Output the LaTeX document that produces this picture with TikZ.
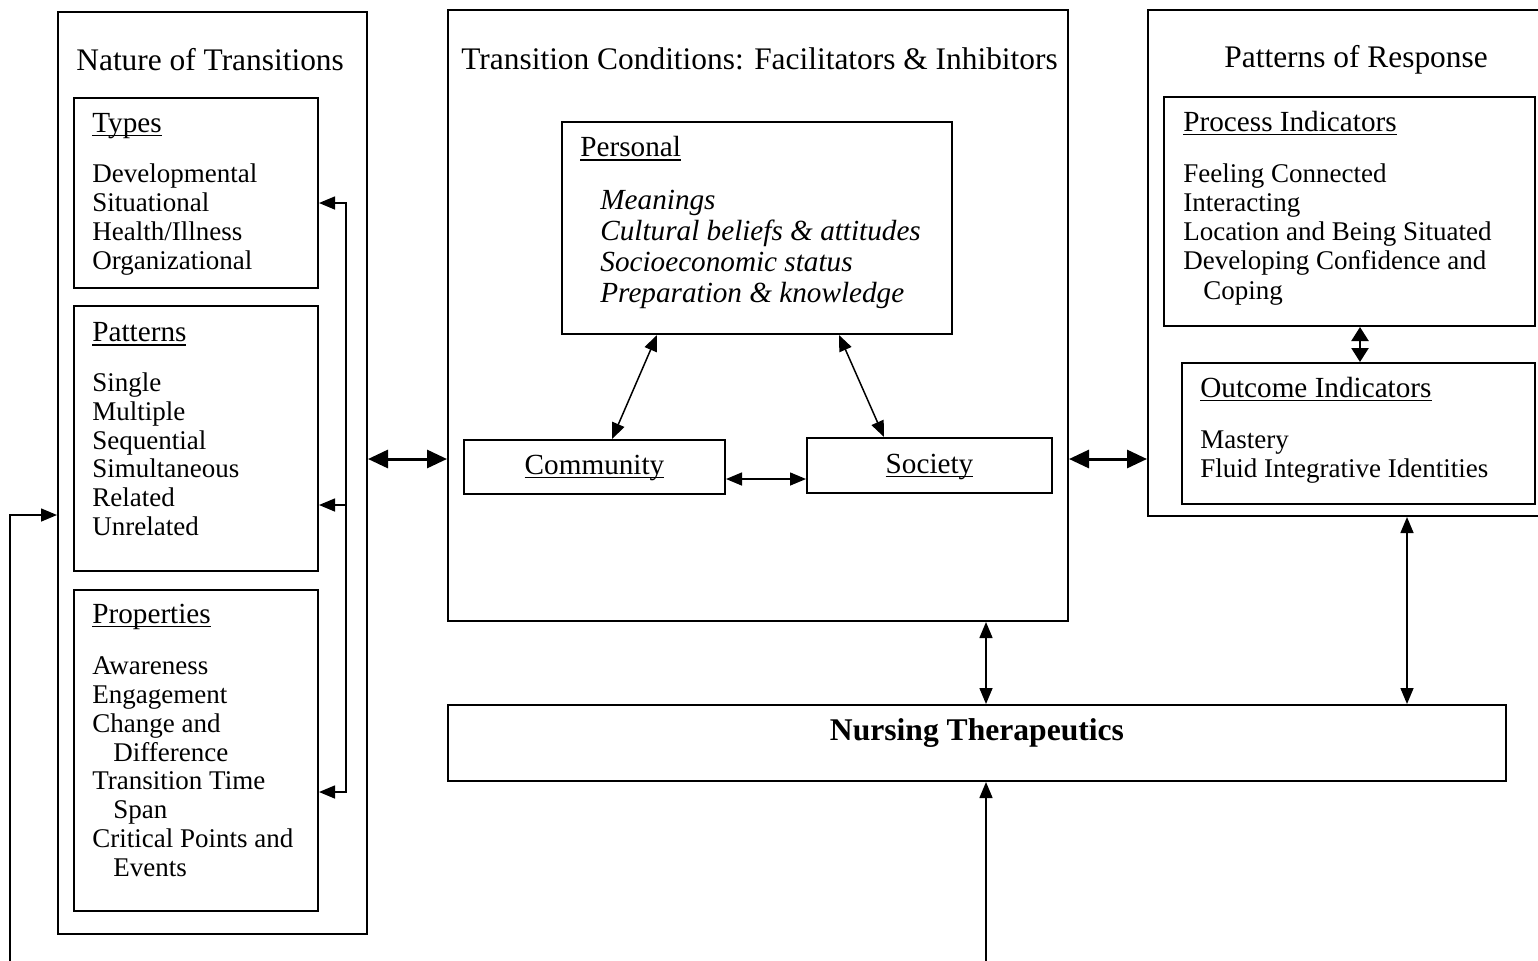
\documentclass[tikz,border=0pt]{standalone}
\usepackage{fontspec}
\setmainfont{Liberation Serif}
\usetikzlibrary{arrows.meta,fit,calc}
\newcommand\myul[1]{\setbox0\hbox{#1}\rlap{\rule[-2pt]{\wd0}{0.7pt}}\box0}
\begin{document}
\begin{tikzpicture}[x=0.5pt,y=-0.5pt,
  bx/.style={draw, line width=1pt, inner sep=0pt},
  ttl/.style={font=\fontsize{15.7}{18}\selectfont, anchor=base west, inner sep=0pt},
  hdr/.style={font=\fontsize{14.6}{17}\selectfont, anchor=base west, inner sep=0pt},
  itm/.style={font=\fontsize{13.5}{16}\selectfont, anchor=base west, inner sep=0pt},
  ital/.style={font=\fontsize{14.6}{17}\selectfont\itshape, anchor=base west, inner sep=0pt},
  plain/.style={line width=0.75pt},
  bigarr/.style={line width=1.5pt, {Triangle[length=10pt,width=9pt]}-{Triangle[length=10pt,width=9pt]}},
  medarr/.style={line width=0.75pt, {Triangle[length=8pt,width=6.5pt]}-{Triangle[length=8pt,width=6.5pt]}},
  onearr/.style={line width=0.75pt, -{Triangle[length=8pt,width=6.5pt]}},
  poarr/.style={line width=1.2pt, {Triangle[length=7pt,width=8.5pt]}-{Triangle[length=7pt,width=8.5pt]}}
]
\useasboundingbox (0,0) rectangle (1538,960);
\clip (0,0) rectangle (1538,960);

% ---- boxes ----
\node[bx, fit={(58,12) (367,934)}] (nature) {};
\node[bx, fit={(74,98) (318,288)}] (types) {};
\node[bx, fit={(74,306) (318,571)}] (patterns) {};
\node[bx, fit={(74,590) (318,911)}] (props) {};
\node[bx, fit={(448,10) (1068,621)}] (cond) {};
\node[bx, fit={(562,122) (952,334)}] (personal) {};
\node[bx, fit={(464,440) (725,494)}] (community) {};
\node[bx, fit={(807,438) (1052,493)}] (society) {};
\node[bx, fit={(1148,10) (1560,516)}] (resp) {};
\node[bx, fit={(1164,97) (1535,326)}] (process) {};
\node[bx, fit={(1182,363) (1535,504)}] (outcome) {};
\node[bx, fit={(448,705) (1506,781)}] (nt) {};

% ---- Nature of Transitions ----
\node[ttl] (natT) at (76,70) {Nature of Transitions};
\node[hdr] (typH) at (92,132) {\myul{Types}};
\node[itm] (ty1) at (92,182.7) {Developmental};
\node[itm] (ty2) at (92,211.5) {Situational};
\node[itm] (ty3) at (92,240.2) {Health/Illness};
\node[itm] (ty4) at (92,269) {Organizational};
\node[hdr] (patH) at (92,341.7) {\myul{Patterns}};
\node[itm] (pa1) at (92,391.7) {Single};
\node[itm] (pa2) at (92,420.4) {Multiple};
\node[itm] (pa3) at (92,449.1) {Sequential};
\node[itm] (pa4) at (92,477.8) {Simultaneous};
\node[itm] (pa5) at (92,506.5) {Related};
\node[itm] (pa6) at (92,535.2) {Unrelated};
\node[hdr] (proH) at (92,623.3) {\myul{Properties}};
\node[itm] (pr1) at (92,674.3) {Awareness};
\node[itm] (pr2) at (92,703.2) {Engagement};
\node[itm] (pr3) at (92,732.1) {Change and};
\node[itm] (pr4) at (113,761) {Difference};
\node[itm] (pr5) at (92,789.9) {Transition Time};
\node[itm] (pr6) at (113,818.8) {Span};
\node[itm] (pr7) at (92,847.7) {Critical Points and};
\node[itm] (pr8) at (113,876.6) {Events};

% ---- Transition Conditions ----
\node[ttl] (condT) at (461,69) {Transition Conditions: Facilitators \& Inhibitors};
\node[hdr] (perH) at (580,156.7) {\myul{Personal}};
\node[ital] (pe1) at (600,209) {Meanings};
\node[ital] (pe2) at (600,240.2) {Cultural beliefs \& attitudes};
\node[ital] (pe3) at (600,271.5) {Socioeconomic status};
\node[ital] (pe4) at (600,302.7) {Preparation \& knowledge};
\node[hdr, anchor=base] (comT) at (594.5,474) {\myul{Community}};
\node[hdr, anchor=base] (socT) at (929.5,473) {\myul{Society}};

% ---- Patterns of Response ----
\node[ttl] (respT) at (1224,67) {Patterns of Response};
\node[hdr] (procH) at (1183,131) {\myul{Process Indicators}};
\node[itm] (pc1) at (1183,182) {Feeling Connected};
\node[itm] (pc2) at (1183,211.3) {Interacting};
\node[itm] (pc3) at (1183,240.6) {Location and Being Situated};
\node[itm] (pc4) at (1183,269.9) {Developing Confidence and};
\node[itm] (pc5) at (1203,299.2) {Coping};
\node[hdr] (outH) at (1200,397) {\myul{Outcome Indicators}};
\node[itm] (oc1) at (1200,448) {Mastery};
\node[itm] (oc2) at (1200,477.3) {Fluid Integrative Identities};

% ---- Nursing Therapeutics ----
\node[anchor=base, inner sep=0pt, font=\fontsize{15.8}{18}\selectfont\bfseries] (ntT) at (977,740) {Nursing Therapeutics};

% ---- connectors ----
\coordinate (y459) at (0,459);
\draw[bigarr] (nature.east |- y459) -- (cond.west |- y459);
\draw[bigarr] (cond.east |- y459) -- (resp.west |- y459);
\draw[medarr] ($(personal.south west)+(96,0)$) -- ($(community.north west)+(149,0)$);
\draw[medarr] ($(personal.south west)+(278,0)$) -- ($(society.north west)+(78,0)$);
\coordinate (y479) at (0,479);
\draw[medarr] (community.east |- y479) -- (society.west |- y479);
\coordinate (px) at (1360,0);
\draw[poarr] (px |- process.south) -- (px |- outcome.north);
\coordinate (rx) at (1407,0);
\draw[medarr] (rx |- resp.south) -- (rx |- nt.north);
\coordinate (cx) at (986,965);
\draw[medarr] (cx |- cond.south) -- (cx |- nt.north);
\draw[onearr] (cx) -- (cx |- nt.south);
\coordinate (lb) at (10,965);
\coordinate (lc) at (10,515);
\draw[onearr] (lb) -- (lc) -- (nature.west |- lc);
\coordinate (fb1) at (346,203);
\coordinate (fb2) at (346,505);
\coordinate (fb3) at (346,792);
\draw[plain] (fb1) -- (fb3);
\draw[onearr] (fb3) -- (fb1) -- (types.east |- fb1);
\draw[onearr] (fb2) -- (patterns.east |- fb2);
\draw[onearr] (fb1) -- (fb3) -- (props.east |- fb3);
\end{tikzpicture}
\end{document}
